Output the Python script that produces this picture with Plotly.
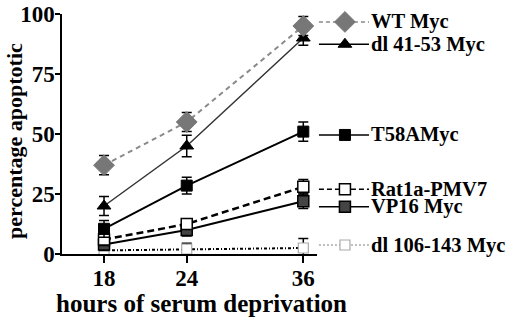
import plotly.graph_objects as go

hours = [18, 24, 36]
x_tick_labels = ["18", "24", "36"]
y_tick_vals = [0, 25, 50, 75, 100]
y_tick_labels = ["0", "25", "50", "75", "100"]

series_names = ["WT Myc", "dl 41-53 Myc", "T58AMyc", "Rat1a-PMV7", "VP16 Myc", "dl 106-143 Myc"]
wt_myc = [37, 55, 95]
wt_myc_err = [4, 4, 4]
dl41_53 = [20, 45, 90]
dl41_53_err = [4, 4.5, 3]
t58a = [10.5, 28.5, 51]
t58a_err = [3.5, 3.5, 4]
rat1a = [6, 12.5, 28]
rat1a_err = [2.5, 2, 3]
vp16 = [4, 10, 22]
vp16_err = [2.5, 2.5, 3]
dl106_143 = [1.5, 2, 2.5]
dl106_143_err = [1.5, 2.5, 4]

# styling (not data)
styles = [
    dict(line=dict(color="#8a8a8a", width=2, dash="5px,4px"),
         marker=dict(symbol="diamond", size=16, color="#777777", line=dict(color="#777777", width=1))),
    dict(line=dict(color="#333333", width=1.5, dash="solid"),
         marker=dict(symbol="triangle-up", size=12, color="black", line=dict(color="black", width=1))),
    dict(line=dict(color="black", width=2, dash="solid"),
         marker=dict(symbol="square", size=11, color="black", line=dict(color="black", width=1))),
    dict(line=dict(color="black", width=2.5, dash="7px,4px"),
         marker=dict(symbol="square", size=11, color="white", line=dict(color="black", width=1.5))),
    dict(line=dict(color="black", width=2, dash="solid"),
         marker=dict(symbol="square", size=11, color="#444444", line=dict(color="black", width=1.5))),
    dict(line=dict(color="black", width=2, dash="3px,2px,1px,2px"),
         marker=dict(symbol="square", size=10, color="white", line=dict(color="#aaaaaa", width=1.2))),
]
legend_line_styles = [
    dict(color="#8a8a8a", width=1.5, dash="4px,3px"),
    dict(color="black", width=1.5, dash="solid"),
    dict(color="black", width=1.5, dash="solid"),
    dict(color="black", width=1.5, dash="5px,3px"),
    dict(color="black", width=1.5, dash="solid"),
    dict(color="#aaaaaa", width=1.5, dash="2px,2px"),
]
legend_y = [96.7, 87.4, 49.6, 27, 19.7, 3.75]

values = [wt_myc, dl41_53, t58a, rat1a, vp16, dl106_143]
errors = [wt_myc_err, dl41_53_err, t58a_err, rat1a_err, vp16_err, dl106_143_err]

FONT = "Liberation Serif"
fig = go.Figure()

# draw order: back to front
for i in [5, 4, 3, 2, 1, 0]:
    s = styles[i]
    fig.add_trace(go.Scatter(
        x=hours, y=values[i], mode="lines+markers", name=series_names[i],
        line=s["line"], marker=s["marker"], cliponaxis=False,
        error_y=dict(type="data", array=errors[i], visible=True, color="black",
                     thickness=1.5, width=5),
        showlegend=False,
    ))

# custom legend on a secondary x axis
for i, name in enumerate(series_names):
    s = styles[i]
    fig.add_trace(go.Scatter(
        x=[0.01, 0.268], y=[legend_y[i], legend_y[i]], xaxis="x2", yaxis="y",
        mode="lines", line=legend_line_styles[i], showlegend=False, cliponaxis=False,
        hoverinfo="skip"))
    fig.add_trace(go.Scatter(
        x=[0.144], y=[legend_y[i]], xaxis="x2", yaxis="y", mode="markers",
        marker=s["marker"], showlegend=False, cliponaxis=False, hoverinfo="skip"))
    fig.add_annotation(x=0.268, y=legend_y[i], xref="x2", yref="y", text="<b>%s</b>" % name,
                       showarrow=False, xanchor="left", yanchor="middle",
                       font=dict(family=FONT, size=20.5, color="black"))

# axis titles
fig.add_annotation(x=0.3096, y=-0.2083, xref="paper", yref="paper",
                   text="<b>hours of serum deprivation</b>", showarrow=False,
                   xanchor="center", yanchor="middle",
                   font=dict(family=FONT, size=25, color="black"))
fig.add_annotation(x=-0.1047, y=0.471, xref="paper", yref="paper",
                   text="<b>percentage apoptotic</b>", showarrow=False, textangle=-90,
                   xanchor="center", yanchor="middle",
                   font=dict(family=FONT, size=22, color="black"))

split = 255 / 449
fig.update_layout(
    width=511, height=320,
    margin=dict(l=62, r=0, t=14, b=66, autoexpand=False),
    paper_bgcolor="white", plot_bgcolor="white",
    font=dict(family=FONT, color="black"),
    xaxis=dict(
        type="log", domain=[0, split], automargin=False,
        range=[1.1918, 1.577],
        tickvals=hours, ticktext=["<b>%s</b>" % t for t in x_tick_labels],
        tickfont=dict(family=FONT, size=23, color="black"),
        ticklabelstandoff=-4, ticklabeloverflow="allow",
        showline=True, linecolor="black", linewidth=1.5,
        ticks="outside", ticklen=7, tickwidth=1.5, tickcolor="black",
        showgrid=False, zeroline=False,
    ),
    xaxis2=dict(domain=[split, 1], range=[0, 1], visible=False, anchor="y"),
    yaxis=dict(
        range=[0, 100], automargin=False,
        tickvals=y_tick_vals, ticktext=["<b>%s</b>" % t for t in y_tick_labels],
        tickfont=dict(family=FONT, size=23, color="black"),
        ticklabelstandoff=-4, ticklabeloverflow="allow",
        showline=True, linecolor="black", linewidth=1.5,
        ticks="outside", ticklen=5, tickwidth=1.5, tickcolor="black",
        showgrid=False, zeroline=False,
    ),
)

fig.write_html("out.html", config={"displayModeBar": False},
               post_script="document.body.style.margin='0';document.body.style.overflow='hidden';")
